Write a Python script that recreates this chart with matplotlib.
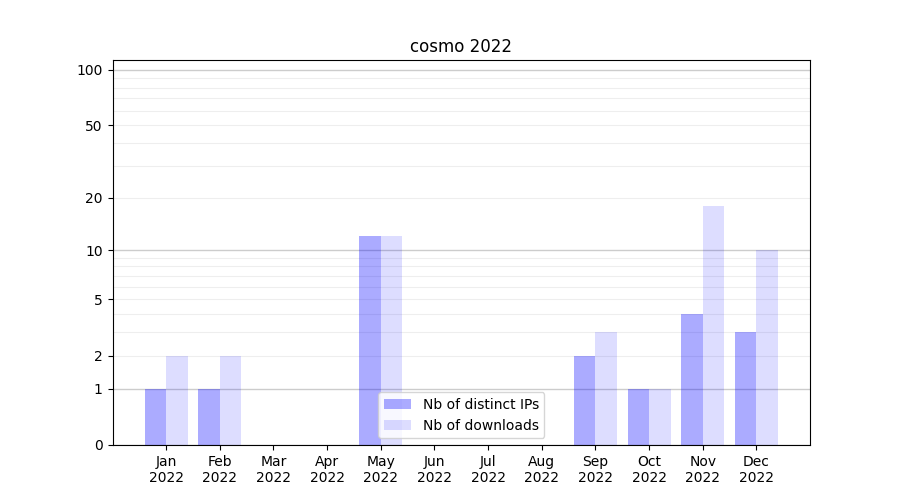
import matplotlib
matplotlib.use("Agg")
import matplotlib.pyplot as plt
import numpy as np
from matplotlib.ticker import FixedLocator, FixedFormatter, NullFormatter

months = ["Jan", "Feb", "Mar", "Apr", "May", "Jun", "Jul", "Aug", "Sep", "Oct", "Nov", "Dec"]
year = "2022"
distinct_ips = [1, 1, 0, 0, 12, 0, 0, 0, 2, 1, 4, 3]
downloads = [2, 2, 0, 0, 12, 0, 0, 0, 3, 1, 18, 10]

fig, ax = plt.subplots(figsize=(9, 5), dpi=100)
ax.set_yscale('function', functions=(lambda v: np.log10(1 + np.asarray(v)),
                                     lambda v: 10 ** np.asarray(v) - 1))
x = np.arange(len(months))
ax.bar(x - 0.2, distinct_ips, width=0.4, color='blue', alpha=0.33, label='Nb of distinct IPs')
ax.bar(x + 0.2, downloads, width=0.4, color='blue', alpha=0.135, label='Nb of downloads')

ax.set_ylim(0, 113)
ax.set_xlim(-1, 12)
ax.set_xticks(x)
ax.set_xticklabels([f"{m}\n{year}" for m in months])

major = [0, 1, 10, 100]
minor = [2, 3, 4, 5, 6, 7, 8, 9, 20, 30, 40, 50, 60, 70, 80, 90]
ax.yaxis.set_major_locator(FixedLocator(major))
ax.yaxis.set_major_formatter(FixedFormatter([str(v) for v in major]))
ax.yaxis.set_minor_locator(FixedLocator(minor))
ax.yaxis.set_minor_formatter(FixedFormatter([str(v) if v in (2, 5, 20, 50) else "" for v in minor]))
ax.tick_params(axis='y', which='minor', length=3.5, width=0.8, labelsize=10)
for t, v in zip(ax.yaxis.get_minor_ticks(), minor):
    if v not in (2, 5, 20, 50):
        t.tick1line.set_visible(False)
ax.grid(axis='y', which='major', color='#cccccc', linewidth=1)
ax.grid(axis='y', which='minor', color='#eeeeee', linewidth=0.8)
ax.set_axisbelow(True)

ax.set_title("cosmo 2022")
ax.legend(loc='lower center')
fig.savefig("out.png")
